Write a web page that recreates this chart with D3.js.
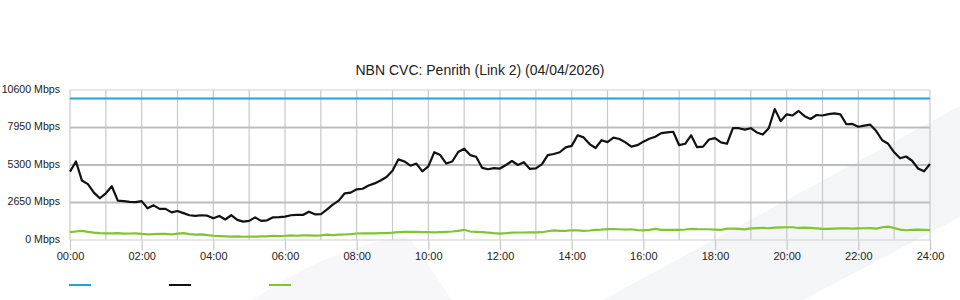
<!DOCTYPE html>
<html lang="en">
<head>
    <meta charset="UTF-8">
    <title>NBN CVC Penrith</title>
    <script src="https://d3js.org/d3.v7.min.js" charset="utf-8"></script>
    <style>
        body { margin: 0; background: #fff; }
        text { font-family: "Liberation Sans", Arial, sans-serif; fill: #222; }
    </style>
</head>
<body>
    <div id="vis"></div>

    <script>

        var title = "NBN CVC: Penrith (Link 2) (04/04/2026)";

        // y-axis ticks (Mbps)
        var yTicks = [0, 2650, 5300, 7950, 10600];
        // x-axis labels every 2 hours
        var xTickHours = [0, 2, 4, 6, 8, 10, 12, 14, 16, 18, 20, 22, 24];

        // link capacity
        var capacity = 10000;

        // samples every 10 minutes, 00:00 -> 24:00
        var downstream = [
            4830, 5550, 4200, 3950, 3350, 2950, 3300, 3800, 2780, 2750,
            2700, 2680, 2750, 2237, 2450, 2200, 2200, 1950, 2050, 1900,
            1750, 1700, 1750, 1720, 1540, 1700, 1450, 1750, 1420, 1300,
            1350, 1600, 1350, 1390, 1600, 1620, 1650, 1750, 1770, 1770,
            2000, 1815, 1820, 2150, 2500, 2780, 3300, 3350, 3580, 3620,
            3850, 4000, 4200, 4450, 4900, 5700, 5550, 5250, 5400, 4850,
            5200, 6200, 6000, 5400, 5550, 6220, 6450, 6000, 5880, 5100,
            5000, 5080, 5050, 5300, 5580, 5300, 5500, 5020, 5060, 5350,
            6000, 6080, 6200, 6550, 6650, 7400, 7250, 6780, 6500, 7050,
            6920, 7230, 7137, 6900, 6600, 6700, 6950, 7150, 7300, 7550,
            7600, 7650, 6700, 6800, 7400, 6560, 6600, 7100, 7200, 6900,
            6800, 7900, 7900, 7800, 7900, 7600, 7450, 7900, 9250, 8400,
            8880, 8800, 9117, 8750, 8550, 8833, 8800, 8900, 8950, 8880,
            8180, 8200, 8000, 8080, 8150, 7700, 7050, 6800, 6200, 5773,
            5900, 5600, 5050, 4850, 5370
        ];

        var upstream = [
            550, 600, 650, 580, 520, 480, 470,
            470, 480, 450, 460, 470, 430,
            400, 420, 440, 430, 400, 450,
            480, 420, 380, 400, 350, 300,
            280, 260, 240, 250, 230, 240,
            240, 250, 260, 300, 280, 300,
            330, 300, 320, 330, 310, 330,
            380, 350, 380, 390, 420, 460,
            470, 470, 470, 480, 490, 520,
            560, 570, 570, 580, 560, 560,
            540, 560, 580, 600, 650, 720,
            600, 580, 560, 520, 480, 450,
            480, 520, 530, 530, 540, 540,
            550, 620, 680, 650, 640, 690,
            680, 650, 670, 720, 730, 770,
            770, 760, 740, 760, 700, 680,
            720, 780, 720, 720, 720, 720,
            740, 790, 770, 760, 760, 740,
            720, 800, 810, 790, 750, 820,
            840, 860, 830, 870, 890, 900,
            900, 850, 880, 850, 820, 780,
            780, 800, 820, 830, 800, 820,
            830, 840, 810, 900, 950, 850,
            730, 690, 720, 740, 720, 700
        ];

        var width = 960;
        var height = 300;

        var margin = { top: 90, left: 70, right: 30, bottom: 60 };

        var svg = d3.select("#vis")
            .append("svg")
              .attr("width", width)
              .attr("height", height);

        // faint watermark shapes behind the chart
        svg.append("path")
            .attr("d", "M603,300 L960,106 L960,217 L803,300 Z")
            .attr("fill", "#f4f5f7");
        svg.append("path")
            .attr("d", "M252,300 Q330,248 398,238 Q410,236 414,244 L452,300 Z")
            .attr("fill", "#f7f7f9");

        var g = svg.append("g")
            .attr("transform", "translate(" + margin.left + "," + margin.top + ")");

        var w = width - margin.left - margin.right;
        var h = height - margin.top - margin.bottom;

        var x_scale = d3.scaleLinear()
            .domain([0, 24])
            .range([0, w]);

        var y_scale = d3.scaleLinear()
            .domain([0, 10600])
            .range([h, 0]);

        // vertical grid every hour
        g.append("g")
            .selectAll("line")
            .data(d3.range(0, 25))
            .enter().append("line")
              .attr("x1", function(d) { return x_scale(d); })
              .attr("x2", function(d) { return x_scale(d); })
              .attr("y1", 0)
              .attr("y2", h)
              .attr("stroke", "#c8c8c8")
              .attr("stroke-width", 1.2);

        // horizontal grid
        g.append("g")
            .selectAll("line")
            .data(yTicks)
            .enter().append("line")
              .attr("x1", 0)
              .attr("x2", w)
              .attr("y1", function(d) { return y_scale(d); })
              .attr("y2", function(d) { return y_scale(d); })
              .attr("stroke", function(d) { return (d === 0 || d === 10600) ? "#cfcfcf" : "#bdbdbd"; })
              .attr("stroke-width", function(d) { return (d === 0 || d === 10600) ? 1.2 : 2; });

        // x axis
        var x_axis = d3.axisBottom(x_scale)
            .tickValues(xTickHours)
            .tickSize(10)
            .tickFormat(function(d) { return (d < 10 ? "0" : "") + d + ":00"; });

        var xa = g.append("g")
            .attr("transform", "translate(0," + h + ")")
            .call(x_axis);
        xa.select(".domain").remove();
        xa.selectAll(".tick line").attr("stroke", "#c8c8c8").attr("stroke-width", 1.2);
        xa.selectAll(".tick text")
            .attr("y", 12)
            .attr("font-size", 11)
            .attr("font-family", "Liberation Sans, Arial, sans-serif")
            .attr("fill", "#222");

        // y axis labels
        var y_axis = d3.axisLeft(y_scale)
            .tickValues(yTicks)
            .tickSize(0)
            .tickPadding(10)
            .tickFormat(function(d) { return d + " Mbps"; });

        var ya = g.append("g").call(y_axis);
        ya.select(".domain").remove();
        ya.selectAll(".tick text")
            .attr("dy", "0.2em")
            .attr("font-size", 10.6)
            .attr("font-family", "Liberation Sans, Arial, sans-serif")
            .attr("fill", "#222");

        var step = 24 / (downstream.length - 1);

        var line = d3.line()
            .x(function(d, i) { return x_scale(i * step); })
            .y(function(d) { return y_scale(d); });

        // capacity line
        g.append("path")
            .datum([capacity, capacity])
            .attr("d", d3.line()
                .x(function(d, i) { return x_scale(i * 24); })
                .y(function(d) { return y_scale(d); }))
            .attr("fill", "none")
            .attr("stroke", "#1ea4df")
            .attr("stroke-width", 2);

        g.append("path")
            .datum(upstream)
            .attr("d", line)
            .attr("fill", "none")
            .attr("stroke", "#80c530")
            .attr("stroke-width", 2.2);

        g.append("path")
            .datum(downstream)
            .attr("d", line)
            .attr("fill", "none")
            .attr("stroke", "#111")
            .attr("stroke-width", 2.2)
            .attr("stroke-linejoin", "round");

        // title
        svg.append("text")
            .attr("x", 480)
            .attr("y", 75)
            .attr("text-anchor", "middle")
            .attr("font-size", 14)
            .text(title);

        // legend swatches (no labels)
        var legendColors = ["#1ea4df", "#111", "#80c530"];
        svg.append("g")
            .selectAll("line")
            .data(legendColors)
            .enter().append("line")
              .attr("x1", function(d, i) { return 69 + i * 100; })
              .attr("x2", function(d, i) { return 91 + i * 100; })
              .attr("y1", 285)
              .attr("y2", 285)
              .attr("stroke", function(d) { return d; })
              .attr("stroke-width", 2);

    </script>
</body>
</html>
